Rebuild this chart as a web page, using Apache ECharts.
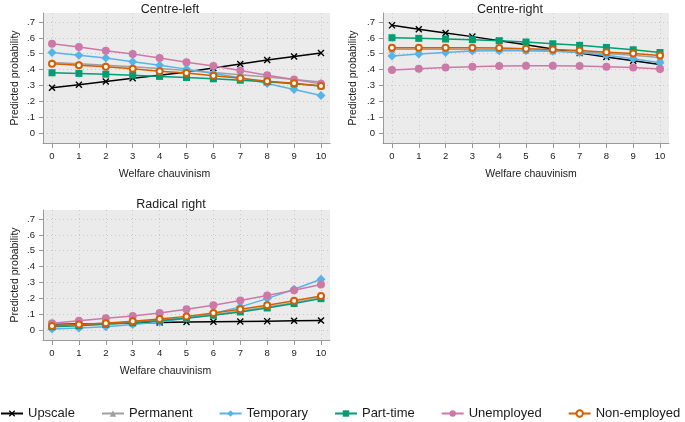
<!DOCTYPE html>
<html>
<head>
<meta charset="utf-8">
<script src="https://cdn.jsdelivr.net/npm/echarts@6/dist/echarts.min.js"></script>
<style>
html,body{margin:0;padding:0;background:#fff;}
#chart{width:685px;height:422px;}
</style>
</head>
<body>
<div id="chart"></div>
<script>
// ---- data ----
const welfare = [0,1,2,3,4,5,6,7,8,9,10];
const yTicks = [0,0.1,0.2,0.3,0.4,0.5,0.6,0.7];
const panels = ['Centre-left','Centre-right','Radical right'];
const groups = ['Upscale','Permanent','Temporary','Part-time','Unemployed','Non-employed'];

const cl_upscale   = [0.285,0.305,0.325,0.345,0.365,0.385,0.410,0.435,0.460,0.483,0.505];
const cl_permanent = [0.445,0.437,0.428,0.418,0.407,0.395,0.382,0.368,0.353,0.338,0.322];
const cl_temporary = [0.508,0.490,0.473,0.449,0.428,0.403,0.375,0.348,0.312,0.274,0.236];
const cl_parttime  = [0.380,0.376,0.371,0.365,0.357,0.350,0.342,0.333,0.323,0.310,0.297];
const cl_unemployed= [0.563,0.542,0.519,0.498,0.473,0.447,0.422,0.395,0.365,0.338,0.310];
const cl_nonemp    = [0.437,0.428,0.418,0.405,0.390,0.378,0.361,0.346,0.327,0.314,0.297];

const cr_upscale   = [0.679,0.654,0.631,0.608,0.582,0.557,0.530,0.504,0.479,0.456,0.432];
const cr_permanent = [0.528,0.528,0.528,0.527,0.525,0.522,0.518,0.511,0.501,0.490,0.476];
const cr_temporary = [0.485,0.498,0.508,0.517,0.519,0.519,0.515,0.508,0.491,0.468,0.443];
const cr_parttime  = [0.601,0.597,0.593,0.589,0.582,0.574,0.563,0.553,0.540,0.525,0.508];
const cr_unemployed= [0.397,0.405,0.414,0.418,0.422,0.424,0.424,0.422,0.418,0.414,0.403];
const cr_nonemp    = [0.538,0.538,0.538,0.538,0.536,0.532,0.527,0.521,0.510,0.502,0.489];

const rr_upscale   = [0.035,0.038,0.041,0.044,0.047,0.050,0.052,0.054,0.056,0.058,0.060];
const rr_permanent = [0.030,0.035,0.041,0.051,0.063,0.078,0.097,0.120,0.145,0.172,0.205];
const rr_temporary = [0.006,0.013,0.021,0.034,0.051,0.074,0.105,0.146,0.198,0.257,0.320];
const rr_parttime  = [0.021,0.027,0.036,0.046,0.059,0.074,0.093,0.114,0.139,0.167,0.198];
const rr_unemployed= [0.042,0.059,0.074,0.089,0.108,0.131,0.156,0.186,0.217,0.251,0.287];
const rr_nonemp    = [0.025,0.034,0.042,0.055,0.070,0.086,0.108,0.131,0.156,0.184,0.215];

const panelData = [
  [cl_upscale,cl_permanent,cl_temporary,cl_parttime,cl_unemployed,cl_nonemp],
  [cr_upscale,cr_permanent,cr_temporary,cr_parttime,cr_unemployed,cr_nonemp],
  [rr_upscale,rr_permanent,rr_temporary,rr_parttime,rr_unemployed,rr_nonemp]
];

// ---- styles ----
const colors = ['#000000','#a0a0a0','#56b4e9','#009e73','#cc79a7','#d55e00'];
const crossPath = 'path://M1.4,0 L5,3.6 L8.6,0 L10,1.4 L6.4,5 L10,8.6 L8.6,10 L5,6.4 L1.4,10 L0,8.6 L3.6,5 L0,1.4 Z';
const symbols = [crossPath,'triangle','diamond','rect','circle','emptyCircle'];
const symSizes = [7,7,9,7,8,6];

const grids = [
  {left:43, top:13, width:287, height:130},
  {left:383, top:13, width:286, height:130},
  {left:43, top:210, width:287, height:130}
];
const titlePos = [{x:165,y:-2},{x:505,y:-2},{x:166,y:193}];
const xNamePad = [[0,44,0,0],[0,0,0,10],[0,42,0,0]];
const yNameGap = [22,24,22];

const font = 'Liberation Sans, Arial, sans-serif';
const axisGray = '#9a9a9a';
const txt = '#1a1a1a';

const option = {
  backgroundColor:'#ffffff',
  animation:false,
  textStyle:{fontFamily:font},
  title: panels.map((p,i)=>({
    text:p, left:titlePos[i].x, top:titlePos[i].y, textAlign:'center',
    textStyle:{fontFamily:font,fontSize:12.5,fontWeight:'normal',color:txt}
  })),
  grid: grids.map(g=>Object.assign({show:true,backgroundColor:'#ebebeb',borderWidth:0},g)),
  xAxis: grids.map((g,i)=>({
    gridIndex:i, type:'value', min:-0.335, max:10.335,
    name:'Welfare chauvinism', nameLocation:'middle', nameGap:26,
    nameTextStyle:{fontFamily:font,fontSize:10.5,color:txt,padding:xNamePad[i]},
    axisLine:{show:true,onZero:false,lineStyle:{color:axisGray,width:1}},
    axisTick:{show:true,length:5,lineStyle:{color:axisGray},customValues:welfare},
    axisLabel:{customValues:welfare,fontFamily:font,fontSize:9.5,color:txt,margin:8,formatter:v=>String(Math.round(v))},
    splitLine:{show:true,lineStyle:{color:'#c9c9c9',type:[1,3],width:1}}
  })),
  yAxis: grids.map((g,i)=>({
    gridIndex:i, type:'value', min:-0.063, max:0.757,
    name:'Predicted probability', nameLocation:'middle', nameGap:yNameGap[i],
    nameTextStyle:{fontFamily:font,fontSize:10.5,color:txt},
    axisLine:{show:true,onZero:false,lineStyle:{color:axisGray,width:1}},
    axisTick:{show:true,length:4,lineStyle:{color:axisGray},customValues:yTicks},
    axisLabel:{customValues:yTicks,fontFamily:font,fontSize:9.5,color:txt,margin:8,
      formatter:v=>{const k=Math.round(v*10);return k===0?'0':'.'+k;}},
    splitLine:{show:true,lineStyle:{color:'#c9c9c9',type:[1,3],width:1}}
  })),
  legend:{
    left:0, top:407, padding:0, itemWidth:22, itemHeight:8, itemGap:26,
    data:groups,
    textStyle:{fontFamily:font,fontSize:13,color:txt}
  },
  series:[]
};

panelData.forEach((set,pi)=>{
  set.forEach((vals,gi)=>{
    option.series.push({
      name:groups[gi], type:'line', xAxisIndex:pi, yAxisIndex:pi,
      data:welfare.map((x,k)=>[x,vals[k]]),
      symbol:symbols[gi], symbolSize:symSizes[gi], showSymbol:true,
      lineStyle:{color:colors[gi],width:1.5},
      itemStyle:{color:colors[gi],borderColor:colors[gi],borderWidth:gi===5?1:0},
      emphasis:{disabled:true},
      z:2+gi
    });
  });
});

const chart = echarts.init(document.getElementById('chart'),null,{renderer:'canvas'});
chart.setOption(option);
</script>
</body>
</html>
